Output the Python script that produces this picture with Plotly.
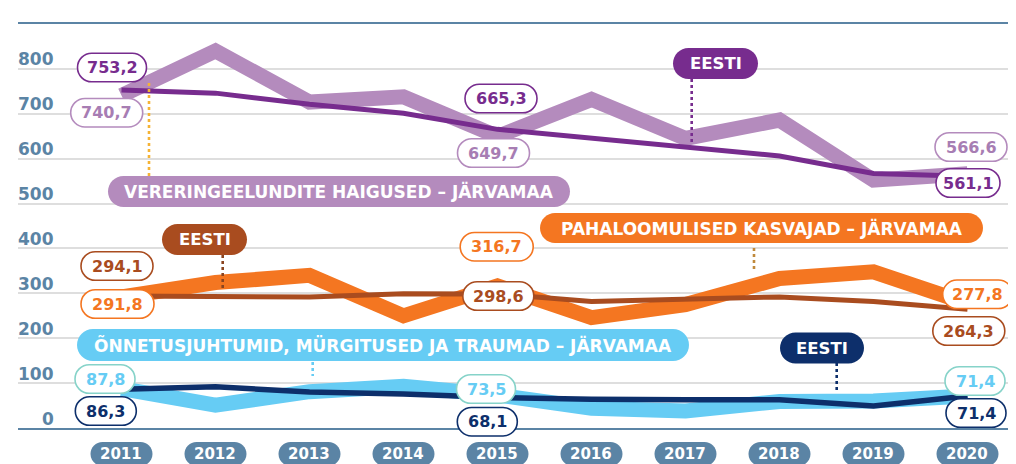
import plotly.graph_objects as go

# ---------------- data ----------------
years = [2011, 2012, 2013, 2014, 2015, 2016, 2017, 2018, 2019, 2020]
year_labels = [str(y) for y in years]

verer_jarva = [740.7, 840, 726, 738, 649.7, 732, 645, 686, 552, 566.6]
verer_eesti = [753.2, 746, 721, 701, 665.3, 645, 625, 606, 567, 561.1]
pahal_jarva = [291.8, 324, 340, 250, 316.7, 246, 275, 333, 348, 277.8]
pahal_eesti = [294.1, 293, 292, 299, 298.6, 282, 286, 292, 282, 264.3]
onnet_jarva = [87.8, 51, 81, 93, 73.5, 44, 38, 59, 60, 71.4]
onnet_eesti = [86.3, 92, 80, 76, 68.1, 64, 63, 63, 49, 71.4]

y_ticks = [0, 100, 200, 300, 400, 500, 600, 700, 800]

cat_verer = "VERERINGEELUNDITE HAIGUSED – JÄRVAMAA"
cat_pahal = "PAHALOOMULISED KASVAJAD – JÄRVAMAA"
cat_onnet = "ÕNNETUSJUHTUMID, MÜRGITUSED JA TRAUMAD – JÄRVAMAA"
eesti_label = "EESTI"

# ---------------- styling ----------------
LPURPLE = "#b48bbd"
DPURPLE = "#772c8e"
ORANGE = "#f47621"
BROWN = "#a94c1f"
LBLUE = "#66ccf4"
NAVY = "#0d2f6b"
TEAL = "#86d3c9"
STEEL = "#5b84a5"
GRID = "#dedede"
FONT = "DejaVu Sans"

# the page body has an 8px margin: compensate so the picture lands on the page grid
OFF = 8
PAGE_W, PAGE_H = 1016, 464
W, H = PAGE_W - OFF, PAGE_H - OFF
PL, PT = 18, 24            # plot-area left / top in page pixels
PR, PB = 1016, 420         # plot-area right / bottom in page pixels
L, T = PL - OFF, PT - OFF
R, B = PAGE_W - PR, PAGE_H - PB - OFF
X0, X1 = 2009.899, 2020.516
Y0, Y1 = 0, 900


def pill_path(cx, cy, w, h):
    x0 = cx - w / 2 - PL
    x1 = cx + w / 2 - PL
    yt = -(cy - h / 2 - PT)
    yb = yt - h
    r = h / 2
    k = 0.5523 * r
    p = (f"M{x0+r},{yt} L{x1-r},{yt} "
         f"C{x1-r+k},{yt} {x1},{yt-r+k} {x1},{yt-r} "
         f"L{x1},{yb+r} "
         f"C{x1},{yb+r-k} {x1-r+k},{yb} {x1-r},{yb} "
         f"L{x0+r},{yb} "
         f"C{x0+r-k},{yb} {x0},{yb+r-k} {x0},{yb+r} "
         f"L{x0},{yt-r} "
         f"C{x0},{yt-r+k} {x0+r-k},{yt} {x0+r},{yt} Z")
    return p


shapes = []
annotations = []


def add_pill(text, cx, cy, w, h, fill, border, tcolor, size, bw=1.6):
    shapes.append(dict(
        type="path", path=pill_path(cx, cy, w, h),
        xref="paper", yref="paper", xsizemode="pixel", ysizemode="pixel",
        xanchor=0, yanchor=1, fillcolor=fill,
        line=dict(color=border, width=bw), layer="above"))
    annotations.append(dict(
        text=text, xref="paper", yref="paper", x=0, y=1,
        xshift=cx - PL, yshift=-(cy - PT), showarrow=False,
        xanchor="center", yanchor="middle",
        font=dict(family=FONT, size=size, color=tcolor, weight="bold")))


def add_connector(x, ya, yb, color):
    shapes.append(dict(
        type="line", xref="paper", yref="paper",
        xsizemode="pixel", ysizemode="pixel", xanchor=0, yanchor=1,
        x0=x - PL, x1=x - PL, y0=-(ya - PT), y1=-(yb - PT),
        line=dict(color=color, width=2.6, dash="dot"), layer="above"))


fig = go.Figure()

series = [
    (verer_jarva, LPURPLE, 15),
    (pahal_jarva, ORANGE, 15),
    (onnet_jarva, LBLUE, 15),
    (verer_eesti, DPURPLE, 5),
    (pahal_eesti, BROWN, 5),
    (onnet_eesti, NAVY, 5.5),
]
for vals, col, w in series:
    fig.add_trace(go.Scatter(x=years, y=vals, mode="lines",
                             line=dict(color=col, width=w),
                             hoverinfo="skip", showlegend=False))

# y tick labels
for v in y_ticks:
    annotations.append(dict(
        text=str(v), xref="paper", yref="y", x=0, y=v,
        xshift=56 - PL, yshift=9.5, showarrow=False,
        xanchor="right", yanchor="middle",
        font=dict(family=FONT, size=17, color=STEEL, weight="bold")))

# year pills
for yr, lab in zip(years, year_labels):
    cx = PL + (yr - X0) / (X1 - X0) * (PR - PL)
    add_pill(lab, cx, 454, 62, 24, STEEL, STEEL, "white", 15, bw=0)

# connectors
add_connector(149, 83, 180, "#f5b335")
add_connector(691.7, 79, 143, DPURPLE)
add_connector(754, 248, 270, "#c08a3c")
add_connector(222.7, 255, 288, "#8a4420")
add_connector(312.7, 362, 376, LBLUE)
add_connector(836.7, 363, 392, NAVY)

# category pills
add_pill(cat_verer, 339, 191.5, 462, 31, LPURPLE, LPURPLE, "white", 17, bw=0)
add_pill(eesti_label, 715.5, 63.5, 85, 31, DPURPLE, DPURPLE, "white", 16.5, bw=0)
add_pill(cat_pahal, 761.5, 228, 443, 30, ORANGE, ORANGE, "white", 17, bw=0)
add_pill(eesti_label, 204.5, 239.5, 85, 31, BROWN, BROWN, "white", 16.5, bw=0)
add_pill(cat_onnet, 383, 345, 612, 32, LBLUE, LBLUE, "white", 17, bw=0)
add_pill(eesti_label, 822, 348, 84, 31, NAVY, NAVY, "white", 16.5, bw=0)


def fmt(v):
    return f"{v:.1f}".replace(".", ",")


# value labels (text from the data)
vlabels = [
    (verer_eesti[0], 112, 67.5, 69, DPURPLE, DPURPLE),
    (verer_jarva[0], 106.7, 112.7, 72, LPURPLE, "#a77db3"),
    (verer_eesti[4], 501, 98.5, 72, DPURPLE, DPURPLE),
    (verer_jarva[4], 493.5, 153, 72, LPURPLE, "#a77db3"),
    (verer_jarva[9], 971, 147, 72, LPURPLE, "#a77db3"),
    (verer_eesti[9], 968, 183, 64, DPURPLE, DPURPLE),
    (pahal_eesti[0], 117, 266, 72, BROWN, BROWN),
    (pahal_jarva[0], 117.5, 304, 73, ORANGE, ORANGE),
    (pahal_jarva[4], 496.7, 246.7, 73, ORANGE, ORANGE),
    (pahal_eesti[4], 498.3, 296, 71, BROWN, BROWN),
    (pahal_jarva[9], 977.7, 294.3, 70, ORANGE, ORANGE),
    (pahal_eesti[9], 968.8, 331, 72, BROWN, BROWN),
    (onnet_jarva[0], 105, 379, 60, TEAL, LBLUE),
    (onnet_eesti[0], 105.8, 411, 61, NAVY, NAVY),
    (onnet_jarva[4], 486, 389, 59, TEAL, LBLUE),
    (onnet_eesti[4], 487.3, 421.7, 60, NAVY, NAVY),
    (onnet_jarva[9], 975, 381, 60, TEAL, LBLUE),
    (onnet_eesti[9], 976, 413, 60, NAVY, NAVY),
]
for v, cx, cy, w, bc, tc in vlabels:
    add_pill(fmt(v), cx, cy, w, 28.5, "white", bc, tc, 16, bw=1.6)

fig.update_layout(
    width=W, height=H,
    margin=dict(l=L, r=R, t=T, b=B, pad=0),
    plot_bgcolor="white", paper_bgcolor="white",
    showlegend=False,
    xaxis=dict(range=[X0, X1], showgrid=False, zeroline=False,
               showline=True, mirror=True, linecolor=STEEL, linewidth=1.5,
               showticklabels=False, ticks=""),
    yaxis=dict(range=[Y0, Y1], dtick=100, showgrid=True, gridcolor=GRID,
               gridwidth=1.5, zeroline=False, showline=False,
               showticklabels=False, ticks=""),
    shapes=shapes,
    annotations=annotations,
)

fig.write_html("out.html")
